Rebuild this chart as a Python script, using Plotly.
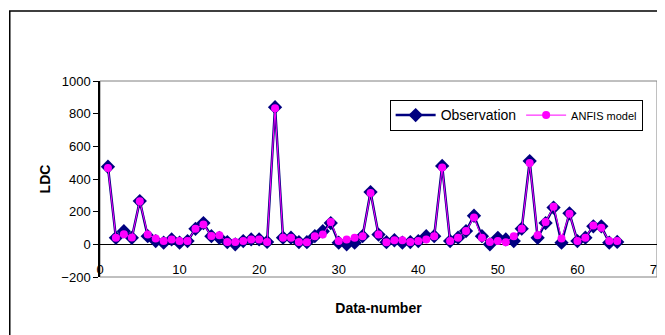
import plotly.graph_objects as go

data_number = list(range(1, 66))
observation = [475, 40, 80, 40, 265, 50, 20, 10, 30, 10,
               20, 95, 130, 50, 40, 14, 0, 20, 30, 30,
               15, 840, 41, 41, 14, 13, 50, 80, 130, 10,
               0, 10, 50, 320, 60, 13, 25, 10, 14, 20,
               50, 50, 480, 20, 41, 81, 175, 50, 0, 40,
               30, 20, 96, 510, 40, 130, 225, 10, 190, 20,
               41, 110, 110, 10, 15]
anfis = [468, 41, 62, 42, 264, 60, 35, 20, 30, 20,
         20, 95, 122, 51, 55, 14, 14, 20, 30, 30,
         15, 833, 41, 41, 14, 13, 50, 60, 136, 20,
         30, 41, 50, 315, 60, 13, 25, 25, 14, 20,
         30, 50, 471, 20, 41, 81, 165, 41, 14, 20,
         13, 50, 96, 498, 55, 136, 230, 35, 187, 20,
         41, 116, 102, 20, 20]

x_ticks = [0, 10, 20, 30, 40, 50, 60, 70]
y_ticks = [-200, 0, 200, 400, 600, 800, 1000]

fig = go.Figure()
fig.add_trace(go.Scatter(
    x=data_number, y=observation, mode="lines+markers",
    name="<span style='font-size:14px'>Observation</span>",
    line=dict(color="#000080", width=2.5),
    marker=dict(symbol="diamond", size=11, color="#000080"),
))
fig.add_trace(go.Scatter(
    x=data_number, y=anfis, mode="lines+markers",
    name="<span style='font-size:11px'>ANFIS model</span>",
    line=dict(color="#FF00FF", width=1),
    marker=dict(symbol="circle", size=8, color="#FF00FF"),
))

fig.update_layout(
    width=657, height=327,
    margin=dict(l=92, r=8, t=73, b=58, autoexpand=False),
    paper_bgcolor="white", plot_bgcolor="white",
    font=dict(family="Liberation Sans, Arial, sans-serif", size=13, color="black"),
    showlegend=True,
    legend=dict(
        orientation="h", x=0.52, y=0.905, xanchor="left", yanchor="top",
        bordercolor="black", borderwidth=1, bgcolor="white",
        font=dict(size=12), itemwidth=40, tracegroupgap=0,
    ),
    xaxis=dict(
        range=[0, 70], tickvals=x_ticks, showgrid=False, zeroline=False,
        showline=False, ticks="", automargin=False,
        anchor="free", position=0.085,
        title=dict(text="<b>Data-number</b>", font=dict(size=14), standoff=26),
    ),
    yaxis=dict(
        range=[-200, 1000], tickvals=y_ticks, showgrid=False,
        zeroline=True, zerolinecolor="black", zerolinewidth=1,
        showline=True, linecolor="black", linewidth=1.5,
        ticks="outside", ticklen=5, tickcolor="black", automargin=False,
        title=dict(text="<b>LDC</b>", font=dict(size=14), standoff=7),
    ),
    shapes=[
        dict(type="rect", xref="paper", yref="paper", x0=0, x1=1, y0=0, y1=1,
             line=dict(color="#808080", width=1), layer="below"),
        dict(type="rect", xref="paper", yref="paper", x0=-0.162, x1=1.2,
             y0=-0.5, y1=1.357, line=dict(color="black", width=1.5)),
    ],
)

fig.write_html("out.html")
